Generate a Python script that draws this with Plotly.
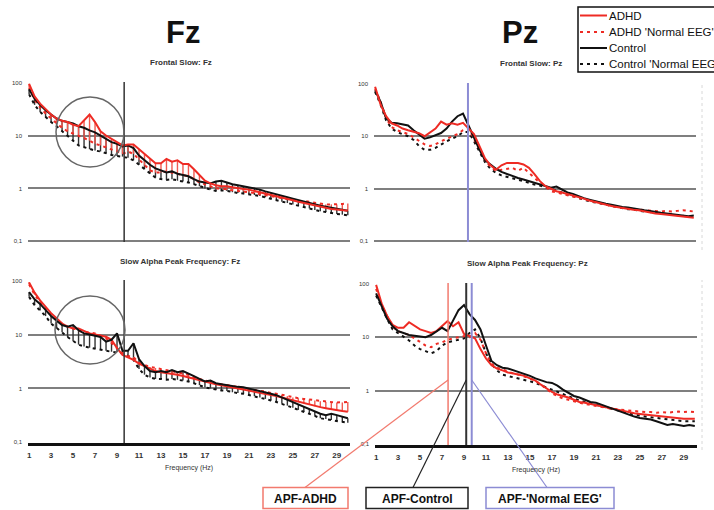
import plotly.graph_objects as go

W, H = 714, 510

# ---------------- data ----------------
freqs = [1.0, 1.5, 2.0, 2.5, 3.0, 3.5, 4.0, 4.5, 5.0, 5.5,
         6.0, 6.5, 7.0, 7.5, 8.0, 8.5, 9.0, 9.5, 10.0, 10.5,
         11.0, 11.5, 12.0, 12.5, 13.0, 13.5, 14.0, 14.5, 15.0, 15.5,
         16.0, 16.5, 17.0, 17.5, 18.0, 18.5, 19.0, 19.5, 20.0, 20.5,
         21.0, 21.5, 22.0, 22.5, 23.0, 23.5, 24.0, 24.5, 25.0, 25.5,
         26.0, 26.5, 27.0, 27.5, 28.0, 28.5, 29.0, 29.5, 30.0]

x_ticks = [1, 3, 5, 7, 9, 11, 13, 15, 17, 19, 21, 23, 25, 27, 29]
y_ticks = [0.1, 1, 10, 100]
y_ticktext = ["0,1", "1", "10", "100"]

# Frontal Slow: Fz
fz_fs_ctrl = [75, 50, 38, 30, 25, 21, 19, 18, 17, 15,
              14, 12.5, 11.5, 10, 8.5, 7.5, 7, 6.2, 6.5, 5.8,
              4.2, 3.4, 2.8, 2.4, 2.2, 2.0, 2.1, 1.9, 1.8, 1.7,
              1.5, 1.35, 1.3, 1.25, 1.35, 1.4, 1.3, 1.2, 1.15, 1.1,
              1.05, 1.0, 0.95, 0.88, 0.82, 0.78, 0.72, 0.68, 0.64, 0.6,
              0.56, 0.53, 0.5, 0.47, 0.45, 0.43, 0.41, 0.39, 0.38]
fz_fs_ctrl_n = [60, 38, 28, 22, 18, 15, 12, 10, 8, 6.5,
                6, 5.5, 5.2, 5, 4.6, 4.3, 4.1, 4.0, 3.8, 3.4,
                2.8, 2.3, 1.9, 1.6, 1.5, 1.45, 1.5, 1.4, 1.35, 1.3,
                1.2, 1.1, 1.0, 0.95, 0.9, 0.92, 0.9, 0.85, 0.82, 0.8,
                0.78, 0.75, 0.72, 0.68, 0.64, 0.6, 0.56, 0.53, 0.5, 0.47,
                0.44, 0.42, 0.39, 0.37, 0.36, 0.34, 0.33, 0.32, 0.31]
fz_fs_adhd = [95, 55, 40, 31, 25, 21, 19, 18, 16, 15,
              19, 25, 18, 12, 10, 8.5, 7.5, 6.5, 6.8, 6.8,
              5.5, 4.5, 3.6, 3.0, 3.0, 3.6, 3.2, 3.4, 2.9, 2.9,
              2.3, 1.8, 1.4, 1.25, 1.15, 1.1, 1.1, 1.05, 1.0, 0.98,
              0.95, 0.9, 0.85, 0.8, 0.76, 0.72, 0.68, 0.64, 0.6, 0.56,
              0.53, 0.5, 0.47, 0.45, 0.43, 0.41, 0.4, 0.39, 0.38]
fz_fs_adhd_n = [80, 48, 34, 26, 21, 17, 14, 12, 11, 10,
                9, 8, 7, 6.5, 6, 5.5, 5, 4.5, 5, 4.5,
                3.5, 2.7, 2.2, 2.0, 2.0, 2.1, 2.0, 1.9, 1.8, 1.7,
                1.5, 1.3, 1.2, 1.1, 1.0, 1.0, 0.95, 0.92, 0.9, 0.88,
                0.85, 0.82, 0.78, 0.75, 0.72, 0.68, 0.66, 0.63, 0.6, 0.58,
                0.58, 0.56, 0.55, 0.52, 0.5, 0.5, 0.5, 0.51, 0.52]

# Frontal Slow: Pz
pz_fs_ctrl = [75, 45, 22, 18, 17.6, 17, 16, 13, 11, 9,
              9.5, 10.5, 11.5, 14, 19, 24, 27, 16, 9, 5.5,
              3.5, 2.9, 2.4, 2.1, 1.9, 1.75, 1.6, 1.5, 1.4, 1.3,
              1.2, 1.12, 1.05, 1.1, 0.95, 0.85, 0.8, 0.72, 0.66, 0.62,
              0.58, 0.55, 0.52, 0.5, 0.47, 0.45, 0.44, 0.42, 0.4, 0.39,
              0.38, 0.36, 0.35, 0.34, 0.33, 0.32, 0.31, 0.3, 0.31]
pz_fs_ctrl_n = [70, 40, 20, 14, 12, 11, 10, 8.5, 6.5, 5.5,
                5.5, 6, 7, 8, 9, 10, 12, 12, 8, 5,
                3.2, 2.4, 2.0, 1.8, 1.7, 1.6, 1.5, 1.4, 1.3, 1.2,
                1.15, 1.05, 1.0, 0.92, 0.85, 0.78, 0.72, 0.67, 0.62, 0.58,
                0.55, 0.52, 0.5, 0.47, 0.45, 0.43, 0.41, 0.4, 0.38, 0.37,
                0.36, 0.35, 0.34, 0.33, 0.32, 0.31, 0.3, 0.3, 0.29]
pz_fs_adhd = [87, 40, 24, 17.6, 16, 14, 13, 12, 11.4, 10,
              12, 14, 19, 16.6, 17.6, 16.6, 18, 14, 11, 6.5,
              3.8, 2.8, 2.3, 2.8, 3.1, 3.1, 3.1, 2.9, 2.5, 1.9,
              1.4, 1.12, 1.0, 0.9, 0.85, 0.8, 0.75, 0.7, 0.65, 0.6,
              0.56, 0.53, 0.5, 0.47, 0.45, 0.43, 0.42, 0.4, 0.39, 0.37,
              0.36, 0.34, 0.33, 0.32, 0.31, 0.3, 0.29, 0.29, 0.28]
pz_fs_adhd_n = [80, 45, 22, 15, 13, 12, 11, 9.5, 8, 7,
                6.5, 7, 8, 9, 10, 11, 13, 14, 9, 5.5,
                3.5, 2.6, 2.2, 2.3, 2.4, 2.5, 2.2, 2.5, 2.0, 1.6,
                1.3, 1.1, 0.9, 0.85, 0.8, 0.75, 0.7, 0.66, 0.62, 0.58,
                0.55, 0.52, 0.49, 0.47, 0.45, 0.43, 0.42, 0.41, 0.4, 0.39,
                0.38, 0.38, 0.37, 0.38, 0.37, 0.38, 0.39, 0.38, 0.37]

# Slow Alpha Peak Frequency: Fz
fz_apf_ctrl = [61, 45, 37, 28, 22, 18, 15, 14, 15, 12,
               10.5, 10, 9.5, 9, 7.4, 8, 10.5, 5, 5, 6.9,
               3.5, 2.6, 2.1, 2.0, 2.1, 2.0, 2.2, 2.0, 2.1, 1.9,
               1.7, 1.5, 1.35, 1.4, 1.25, 1.2, 1.15, 1.1, 1.07, 1.05,
               1.0, 0.95, 0.9, 0.85, 0.8, 0.75, 0.68, 0.62, 0.55, 0.5,
               0.46, 0.42, 0.38, 0.34, 0.32, 0.34, 0.32, 0.3, 0.28]
fz_apf_ctrl_n = [50, 35, 28, 22, 16, 13, 11, 9, 7.5, 6.5,
                 6, 5.7, 5.5, 5.2, 5, 4.8, 4.7, 4.5, 4, 3.4,
                 2.3, 1.8, 1.6, 1.5, 1.5, 1.45, 1.5, 1.45, 1.4, 1.35,
                 1.25, 1.15, 1.05, 1.0, 0.95, 0.92, 0.9, 0.85, 0.82, 0.8,
                 0.76, 0.72, 0.68, 0.64, 0.6, 0.56, 0.52, 0.48, 0.44, 0.4,
                 0.37, 0.34, 0.31, 0.28, 0.27, 0.26, 0.25, 0.24, 0.23]
fz_apf_adhd = [93, 60, 43, 32, 25, 20, 16, 14, 13, 13,
               11.5, 10.5, 10, 9.5, 9.1, 8, 5.6, 4.2, 3.8, 3.4,
               2.9, 2.6, 2.3, 2.1, 2.0, 1.95, 1.9, 1.8, 1.7, 1.6,
               1.5, 1.42, 1.35, 1.28, 1.2, 1.15, 1.1, 1.05, 1.0, 0.96,
               0.92, 0.88, 0.84, 0.8, 0.76, 0.72, 0.68, 0.64, 0.6, 0.56,
               0.53, 0.5, 0.47, 0.45, 0.43, 0.41, 0.4, 0.38, 0.37]
fz_apf_adhd_n = [85, 55, 40, 30, 24, 19, 16, 14, 13, 12,
                 11, 11, 10.5, 9.5, 8.5, 7, 5.5, 4.5, 4, 3.8,
                 3.0, 2.7, 2.5, 2.4, 2.3, 2.2, 2.1, 2.0, 1.9, 1.8,
                 1.6, 1.5, 1.4, 1.3, 1.25, 1.2, 1.15, 1.1, 1.05, 1.0,
                 0.95, 0.92, 0.9, 0.88, 0.82, 0.8, 0.76, 0.72, 0.68, 0.66,
                 0.64, 0.62, 0.6, 0.58, 0.56, 0.56, 0.55, 0.55, 0.56]

# Slow Alpha Peak Frequency: Pz
pz_apf_ctrl = [66, 38, 22, 16, 13, 12, 11, 10.7, 10.5, 10,
               11, 13, 15, 13, 21, 32, 40, 27, 21, 14,
               7, 3.6, 3.0, 2.7, 2.6, 2.4, 2.2, 2.1, 1.9, 1.7,
               1.55, 1.45, 1.4, 1.25, 1.05, 0.9, 0.8, 0.75, 0.68, 0.62,
               0.6, 0.55, 0.5, 0.46, 0.42, 0.39, 0.36, 0.33, 0.31, 0.3,
               0.29, 0.27, 0.25, 0.23, 0.24, 0.23, 0.22, 0.23, 0.22]
pz_apf_ctrl_n = [60, 35, 22, 14, 12, 10, 8.7, 7, 6, 5.5,
                 5, 5.5, 7, 8, 8.5, 9, 9.5, 12, 14, 9.5,
                 5, 3.2, 2.4, 2.0, 1.9, 1.8, 1.7, 1.6, 1.5, 1.4,
                 1.25, 1.15, 1.05, 0.95, 0.85, 0.78, 0.72, 0.66, 0.62, 0.58,
                 0.55, 0.51, 0.48, 0.45, 0.42, 0.4, 0.38, 0.36, 0.34, 0.33,
                 0.32, 0.31, 0.3, 0.29, 0.28, 0.28, 0.27, 0.27, 0.27]
pz_apf_adhd = [95, 43, 25, 17, 15, 15, 19, 16, 14, 13,
               12, 13, 16, 20, 16, 19, 11.5, 10.5, 9.5, 6,
               4, 3.0, 2.6, 2.4, 2.2, 2.1, 2.0, 1.9, 1.7, 1.55,
               1.3, 1.1, 0.95, 0.85, 0.8, 0.75, 0.68, 0.62, 0.6, 0.57,
               0.54, 0.51, 0.48, 0.46, 0.44, 0.42, 0.4, 0.38, 0.37, 0.36,
               0.35, 0.34, 0.33, 0.32, 0.32, 0.31, 0.3, 0.3, 0.3]
pz_apf_adhd_n = [80, 40, 25, 16, 13, 12, 11, 9.5, 8, 7,
                 6.5, 7.5, 8, 9, 9.5, 10, 10.5, 10, 12, 9,
                 5, 3.2, 2.7, 2.5, 2.3, 2.1, 2.0, 1.85, 1.7, 1.55,
                 1.3, 1.1, 0.9, 0.8, 0.72, 0.68, 0.63, 0.6, 0.57, 0.55,
                 0.52, 0.5, 0.48, 0.46, 0.45, 0.43, 0.42, 0.41, 0.4, 0.4,
                 0.4, 0.39, 0.4, 0.39, 0.4, 0.41, 0.4, 0.41, 0.4]

# peak-frequency markers (Hz)
fz_marker_hz = 9.65
pz_fs_marker_hz = 9.45
apf_adhd_hz = 7.55
apf_control_hz = 9.2
apf_normal_hz = 9.7

legend_labels = ["ADHD", "ADHD 'Normal EEG'", "Control", "Control 'Normal EEG'"]

# ---------------- styling ----------------
RED = "#ee2b24"
BLACK = "#111111"
BLUE = "#8c8cd4"
SALMON = "#f27a6e"
GRID = "#7f7f7f"
FONT = "Arial, 'Liberation Sans', sans-serif"
DOT = "3px,4px"


def px(x):
    return x / W


def py(y):
    return 1 - y / H


fig = go.Figure()

names = {"adhd": legend_labels[0], "adhd_n": legend_labels[1],
         "ctrl": legend_labels[2], "ctrl_n": legend_labels[3]}


def style(key):
    color = RED if key.startswith("adhd") else BLACK
    dash = DOT if key.endswith("_n") else "solid"
    return color, dash


def hatch(xa, ya, solid, dotted, color):
    up = [max(d - s, 0) for s, d in zip(solid, dotted)]
    down = [max(s - d, 0) for s, d in zip(solid, dotted)]
    fig.add_trace(go.Scatter(
        x=freqs, y=solid, mode="markers", xaxis=xa, yaxis=ya,
        marker=dict(size=1, color="rgba(0,0,0,0)"), showlegend=False, hoverinfo="skip",
        error_y=dict(type="data", symmetric=False, array=up, arrayminus=down,
                     color=color, thickness=1.4, width=0)))


def line(xa, ya, values, key):
    color, dash = style(key)
    fig.add_trace(go.Scatter(
        x=freqs, y=values, mode="lines", xaxis=xa, yaxis=ya,
        name=names[key], showlegend=False,
        line=dict(color=color, width=2, dash=dash)))


# Panel A: Frontal Slow Fz (with hatching)
hatch("x", "y", fz_fs_ctrl, fz_fs_ctrl_n, "#333333")
hatch("x", "y", fz_fs_adhd, fz_fs_adhd_n, "#f05a50")
line("x", "y", fz_fs_ctrl_n, "ctrl_n")
line("x", "y", fz_fs_adhd_n, "adhd_n")
line("x", "y", fz_fs_ctrl, "ctrl")
line("x", "y", fz_fs_adhd, "adhd")

# Panel B: Frontal Slow Pz
line("x2", "y2", pz_fs_ctrl_n, "ctrl_n")
line("x2", "y2", pz_fs_adhd_n, "adhd_n")
line("x2", "y2", pz_fs_ctrl, "ctrl")
line("x2", "y2", pz_fs_adhd, "adhd")

# Panel C: Slow APF Fz (with hatching)
hatch("x3", "y3", fz_apf_ctrl, fz_apf_ctrl_n, "#333333")
hatch("x3", "y3", fz_apf_adhd, fz_apf_adhd_n, "#f05a50")
line("x3", "y3", fz_apf_ctrl_n, "ctrl_n")
line("x3", "y3", fz_apf_adhd_n, "adhd_n")
line("x3", "y3", fz_apf_adhd, "adhd")
line("x3", "y3", fz_apf_ctrl, "ctrl")

# Panel D: Slow APF Pz
line("x4", "y4", pz_apf_ctrl_n, "ctrl_n")
line("x4", "y4", pz_apf_adhd_n, "adhd_n")
line("x4", "y4", pz_apf_adhd, "adhd")
line("x4", "y4", pz_apf_ctrl, "ctrl")

# ---------------- axes ----------------
panels = {
    "": ((28, 350), (82, 242), False),
    "2": ((374, 696), (83, 242), False),
    "3": ((28, 350), (280, 443), True),
    "4": ((375, 697), (283, 445), True),
}
layout_axes = {}
for k, ((x0, x1), (y0, y1), bottom) in panels.items():
    layout_axes["xaxis" + k] = dict(
        domain=[px(x0), px(x1)], anchor="y" + k, range=[0.9, 30.2],
        tickvals=x_ticks, ticktext=["<b>%d</b>" % t for t in x_ticks],
        showticklabels=bottom, showgrid=False, zeroline=False,
        showline=bottom, linecolor="#111", linewidth=2.5,
        ticks="", ticklabelstandoff=3,
        tickfont=dict(size=8, color="#333", family=FONT),
        title=dict(text="Frequency (Hz)" if bottom else "",
                   font=dict(size=7, color="#333", family=FONT), standoff=6))
    layout_axes["yaxis" + k] = dict(
        domain=[py(y1), py(y0)], anchor="x" + k, type="log",
        range=[-1.012, 2.012], tickvals=y_ticks, ticktext=y_ticktext,
        showgrid=True, gridcolor=GRID, gridwidth=2, zeroline=False,
        showline=False, ticks="", ticklabelstandoff=5,
        tickfont=dict(size=6, color="#333", family=FONT))

shapes = []
# bottom (0,1) rule of the upper panels, drawn across each panel's width
for k in ["", "2"]:
    (x0, x1), (y0, y1), _ = panels[k]
    shapes.append(dict(type="line", xref="paper", yref="paper",
                       x0=px(x0), x1=px(x1), y0=py(y1 - 1), y1=py(y1 - 1), layer="above",
                       line=dict(color=GRID, width=2)))

# vertical peak-frequency lines
shapes.append(dict(type="line", xref="x", yref="y domain", x0=fz_marker_hz, x1=fz_marker_hz,
                   y0=0, y1=1, line=dict(color="#333", width=1.5)))
shapes.append(dict(type="line", xref="x3", yref="y3 domain", x0=fz_marker_hz, x1=fz_marker_hz,
                   y0=0, y1=1, line=dict(color="#333", width=1.5)))
shapes.append(dict(type="line", xref="x2", yref="y2 domain", x0=pz_fs_marker_hz, x1=pz_fs_marker_hz,
                   y0=0, y1=1, line=dict(color=BLUE, width=2)))
shapes.append(dict(type="line", xref="x4", yref="y4 domain", x0=apf_adhd_hz, x1=apf_adhd_hz,
                   y0=0, y1=1, line=dict(color=SALMON, width=1.5)))
shapes.append(dict(type="line", xref="x4", yref="y4 domain", x0=apf_control_hz, x1=apf_control_hz,
                   y0=0, y1=1, line=dict(color="#333", width=2)))
shapes.append(dict(type="line", xref="x4", yref="y4 domain", x0=apf_normal_hz, x1=apf_normal_hz,
                   y0=0, y1=1, line=dict(color=BLUE, width=2)))

# circles highlighting the slow band in Fz
shapes.append(dict(type="circle", xref="paper", yref="paper",
                   x0=px(56), x1=px(124), y0=py(167), y1=py(97),
                   line=dict(color="#666", width=1.5)))
shapes.append(dict(type="circle", xref="paper", yref="paper",
                   x0=px(55), x1=px(125), y0=py(364), y1=py(296),
                   line=dict(color="#666", width=1.5)))

# faint dotted right border of the Pz panels
shapes.append(dict(type="line", xref="paper", yref="paper", x0=px(702), x1=px(702),
                   y0=py(250), y1=py(82), line=dict(color="#d8d8d8", width=1, dash="dot")))
shapes.append(dict(type="line", xref="paper", yref="paper", x0=px(702), x1=px(702),
                   y0=py(450), y1=py(280), line=dict(color="#d8d8d8", width=1, dash="dot")))


def xpos_d(f):
    x0, x1 = panels["4"][0]
    return x0 + (f - 0.9) * (x1 - x0) / (30.2 - 0.9)


annotations = []

# call-out lines and boxes
callouts = [
    ("APF-ADHD", apf_adhd_hz, SALMON, (263, 348), 305),
    ("APF-Control", apf_control_hz, "#222", (366, 468), 413),
    ("APF-'Normal EEG'", apf_normal_hz, BLUE, (486, 614), 547),
]
for text, hz, col, (bx0, bx1), lx in callouts:
    shapes.append(dict(type="line", xref="paper", yref="paper",
                       x0=px(xpos_d(hz)), y0=py(380), x1=px(lx), y1=py(487.5),
                       line=dict(color=col, width=1.2)))
    shapes.append(dict(type="rect", xref="paper", yref="paper",
                       x0=px(bx0), x1=px(bx1), y0=py(508.5), y1=py(487.5),
                       line=dict(color=col, width=1.5), fillcolor="white"))
    annotations.append(dict(text="<b>%s</b>" % text, xref="paper", yref="paper",
                            x=px((bx0 + bx1) / 2), y=py(498.5), showarrow=False,
                            xanchor="center", yanchor="middle",
                            font=dict(size=12, color="#111", family=FONT)))

# legend key (clipped at the right edge like the original)
shapes.append(dict(type="rect", xref="paper", yref="paper",
                   x0=px(578), x1=px(724), y0=py(72), y1=py(7),
                   line=dict(color="#111", width=1.5), fillcolor="white"))
legend_keys = ["adhd", "adhd_n", "ctrl", "ctrl_n"]
legend_rows = [15.5, 32, 48, 64]
for key, label, yrow in zip(legend_keys, legend_labels, legend_rows):
    color, dash = style(key)
    shapes.append(dict(type="line", xref="paper", yref="paper",
                       x0=px(580), x1=px(607), y0=py(yrow), y1=py(yrow),
                       line=dict(color=color, width=2, dash=dash)))
    annotations.append(dict(text=label, xref="paper", yref="paper",
                            x=px(607), y=py(yrow), showarrow=False,
                            xanchor="left", yanchor="middle",
                            font=dict(size=11.5, color="#111", family=FONT)))

titles = [
    ("<b>Fz</b>", 183, 32, 31, "#111"),
    ("<b>Pz</b>", 520, 33, 31, "#111"),
    ("<b>Frontal Slow: Fz</b>", 181, 62, 8, "#333"),
    ("<b>Frontal Slow: Pz</b>", 531, 63, 8, "#333"),
    ("<b>Slow Alpha Peak Frequency: Fz</b>", 180, 261, 8, "#333"),
    ("<b>Slow Alpha Peak Frequency: Pz</b>", 527, 263, 8, "#333"),
]
for text, x, y, size, col in titles:
    annotations.append(dict(text=text, xref="paper", yref="paper", x=px(x), y=py(y),
                            showarrow=False, xanchor="center", yanchor="middle",
                            font=dict(size=size, color=col, family=FONT)))

fig.update_layout(
    width=W, height=H,
    margin=dict(l=0, r=0, t=0, b=0, autoexpand=False),
    paper_bgcolor="white", plot_bgcolor="white",
    font=dict(family=FONT),
    showlegend=False,
    shapes=shapes, annotations=annotations,
    **layout_axes,
)

fig.write_html("out.html",
               config={"displayModeBar": False},
               post_script="document.body.style.margin='0px';document.body.style.overflow='hidden';")
